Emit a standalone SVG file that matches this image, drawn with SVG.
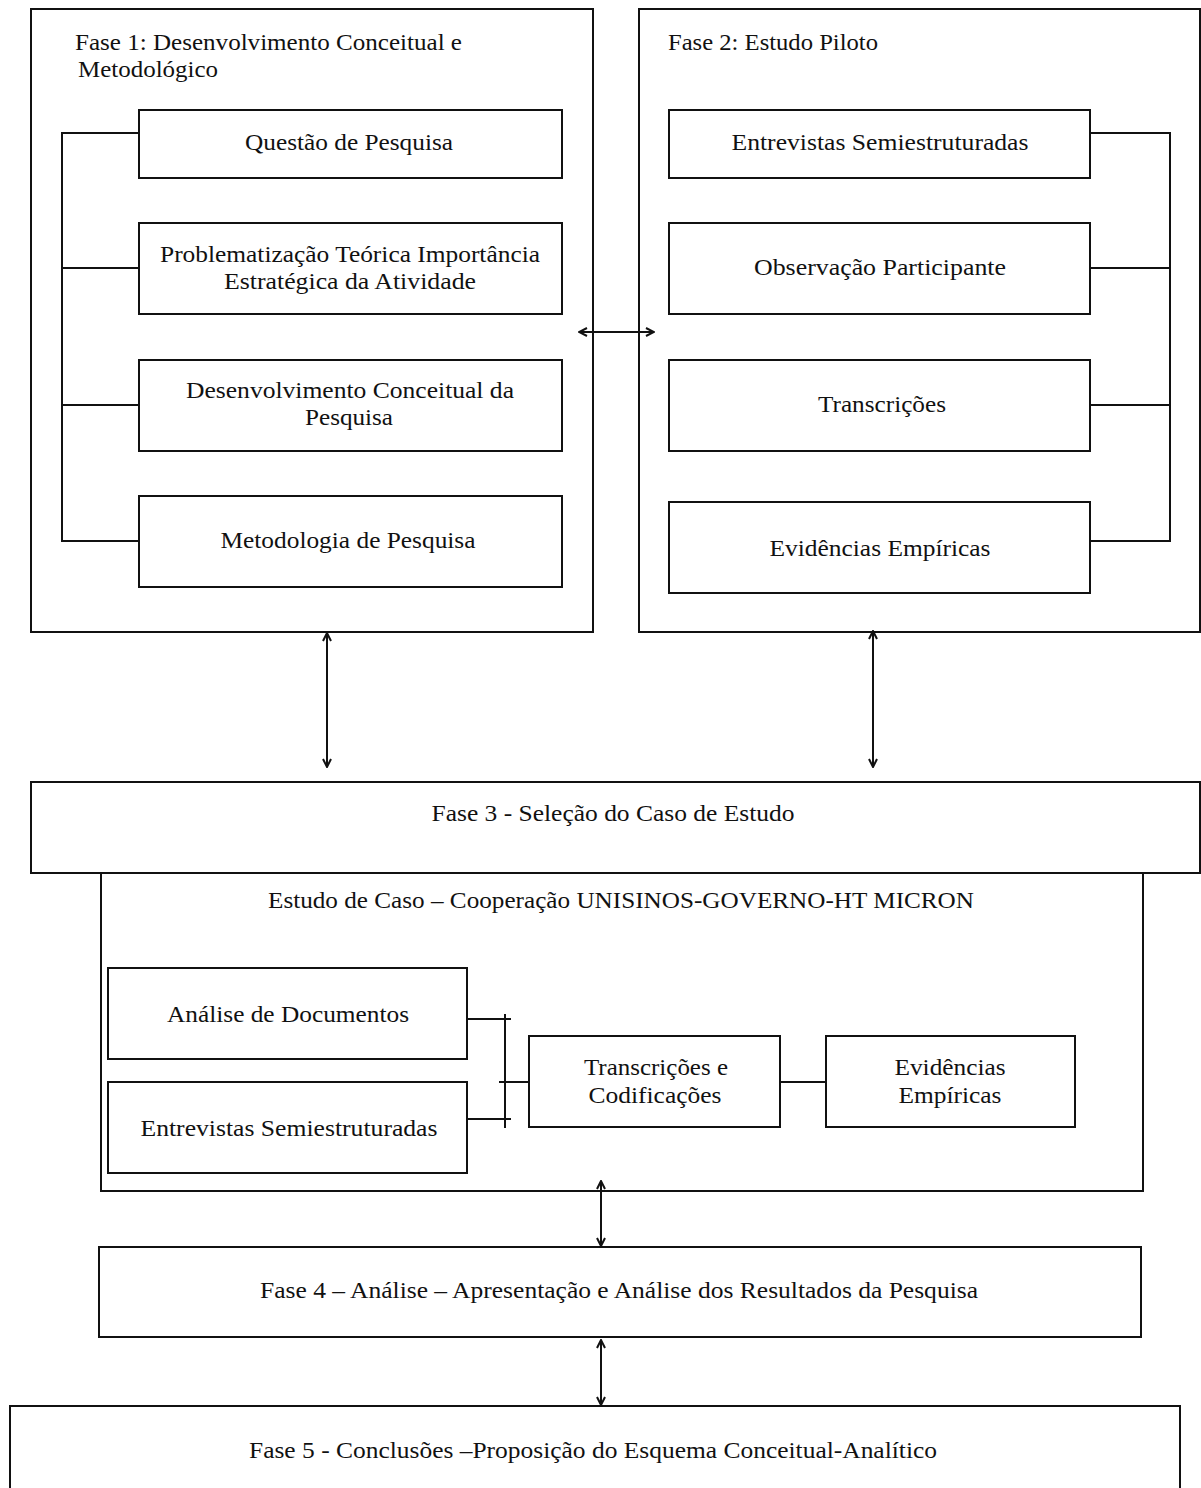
<svg xmlns="http://www.w3.org/2000/svg" width="1201" height="1488" viewBox="0 0 1201 1488">
<style>
.box{fill:#fff;stroke:#111;stroke-width:2}
.ln{fill:none;stroke:#111;stroke-width:2}
.t{font-family:"Liberation Serif","Times New Roman",serif;font-size:23.5px;fill:#111}
.c{text-anchor:middle}
</style>
<defs>
<marker id="ah" viewBox="0 0 10 10" refX="9" refY="5" markerWidth="10" markerHeight="10" markerUnits="userSpaceOnUse" orient="auto-start-reverse">
<path d="M1,1 L9,5 L1,9" fill="none" stroke="#111" stroke-width="2"/>
</marker>
</defs>
<rect width="1201" height="1488" fill="#fff"/>
<g id="fase1">
<rect class="box" x="31" y="9" width="562" height="623"/>
<text class="t" x="75" y="50" textLength="387" lengthAdjust="spacingAndGlyphs">Fase 1: Desenvolvimento Conceitual e</text>
<text class="t" x="78" y="77" textLength="140" lengthAdjust="spacingAndGlyphs">Metodológico</text>
</g>
<g id="fase2">
<rect class="box" x="639" y="9" width="561" height="623"/>
<text class="t" x="668" y="50" textLength="210" lengthAdjust="spacingAndGlyphs">Fase 2: Estudo Piloto</text>
</g>
<g id="questao">
<rect class="box" x="139" y="110" width="423" height="68"/>
<text class="t c" x="349" y="150" textLength="208" lengthAdjust="spacingAndGlyphs">Questão de Pesquisa</text>
</g>
<g id="problematizacao">
<rect class="box" x="139" y="223" width="423" height="91"/>
<text class="t c" x="350" y="262" textLength="380" lengthAdjust="spacingAndGlyphs">Problematização Teórica Importância</text>
<text class="t c" x="350" y="289" textLength="252" lengthAdjust="spacingAndGlyphs">Estratégica da Atividade</text>
</g>
<g id="desenvolvimento">
<rect class="box" x="139" y="360" width="423" height="91"/>
<text class="t c" x="350" y="398" textLength="328" lengthAdjust="spacingAndGlyphs">Desenvolvimento Conceitual da</text>
<text class="t c" x="349" y="425" textLength="88" lengthAdjust="spacingAndGlyphs">Pesquisa</text>
</g>
<g id="metodologia">
<rect class="box" x="139" y="496" width="423" height="91"/>
<text class="t c" x="348" y="548" textLength="255" lengthAdjust="spacingAndGlyphs">Metodologia de Pesquisa</text>
</g>
<g id="entrevistas1">
<rect class="box" x="669" y="110" width="421" height="68"/>
<text class="t c" x="880" y="150" textLength="297" lengthAdjust="spacingAndGlyphs">Entrevistas Semiestruturadas</text>
</g>
<g id="observacao">
<rect class="box" x="669" y="223" width="421" height="91"/>
<text class="t c" x="880" y="275" textLength="252" lengthAdjust="spacingAndGlyphs">Observação Participante</text>
</g>
<g id="transcricoes1">
<rect class="box" x="669" y="360" width="421" height="91"/>
<text class="t c" x="882" y="412" textLength="128" lengthAdjust="spacingAndGlyphs">Transcrições</text>
</g>
<g id="evidencias1">
<rect class="box" x="669" y="502" width="421" height="91"/>
<text class="t c" x="880" y="556" textLength="221" lengthAdjust="spacingAndGlyphs">Evidências Empíricas</text>
</g>
<g id="estudo">
<rect class="box" x="101" y="873" width="1042" height="318"/>
<text class="t" x="268" y="908" textLength="706" lengthAdjust="spacingAndGlyphs">Estudo de Caso – Cooperação UNISINOS-GOVERNO-HT MICRON</text>
</g>
<g id="fase3">
<rect class="box" x="31" y="782" width="1169" height="91"/>
<text class="t c" x="613" y="821" textLength="363" lengthAdjust="spacingAndGlyphs">Fase 3 - Seleção do Caso de Estudo</text>
</g>
<g id="analise">
<rect class="box" x="108" y="968" width="359" height="91"/>
<text class="t c" x="288" y="1022" textLength="242" lengthAdjust="spacingAndGlyphs">Análise de Documentos</text>
</g>
<g id="entrevistas2">
<rect class="box" x="108" y="1082" width="359" height="91"/>
<text class="t c" x="289" y="1136" textLength="297" lengthAdjust="spacingAndGlyphs">Entrevistas Semiestruturadas</text>
</g>
<g id="transcricoes2">
<rect class="box" x="529" y="1036" width="251" height="91"/>
<text class="t c" x="656" y="1075" textLength="144" lengthAdjust="spacingAndGlyphs">Transcrições e</text>
<text class="t c" x="655" y="1103" textLength="133" lengthAdjust="spacingAndGlyphs">Codificações</text>
</g>
<g id="evidencias2">
<rect class="box" x="826" y="1036" width="249" height="91"/>
<text class="t c" x="950" y="1075" textLength="111" lengthAdjust="spacingAndGlyphs">Evidências</text>
<text class="t c" x="950" y="1103" textLength="103" lengthAdjust="spacingAndGlyphs">Empíricas</text>
</g>
<g id="fase4">
<rect class="box" x="99" y="1247" width="1042" height="90"/>
<text class="t c" x="619" y="1298" textLength="718" lengthAdjust="spacingAndGlyphs">Fase 4 – Análise – Apresentação e Análise dos Resultados da Pesquisa</text>
</g>
<g id="fase5">
<rect class="box" x="10" y="1406" width="1170" height="90"/>
<text class="t c" x="593" y="1458" textLength="688" lengthAdjust="spacingAndGlyphs">Fase 5 - Conclusões –Proposição do Esquema Conceitual-Analítico</text>
</g>
<g id="connectors">
<path class="ln" d="M139,133 H62 V541 H139 M62,268 H139 M62,405 H139"/>
<path class="ln" d="M1090,133 H1170 V541 H1090 M1170,268 H1090 M1170,405 H1090"/>
<line class="ln" x1="579" y1="332" x2="654" y2="332" marker-start="url(#ah)" marker-end="url(#ah)"/>
<line class="ln" x1="327" y1="633" x2="327" y2="767" marker-start="url(#ah)" marker-end="url(#ah)"/>
<line class="ln" x1="873" y1="631" x2="873" y2="767" marker-start="url(#ah)" marker-end="url(#ah)"/>
<path class="ln" d="M467,1019 H511 M467,1119 H511 M505,1014 V1128 M499,1082 H529 M780,1082 H826"/>
<line class="ln" x1="601" y1="1181" x2="601" y2="1246" marker-start="url(#ah)" marker-end="url(#ah)"/>
<line class="ln" x1="601" y1="1340" x2="601" y2="1405" marker-start="url(#ah)" marker-end="url(#ah)"/>
</g>
</svg>
